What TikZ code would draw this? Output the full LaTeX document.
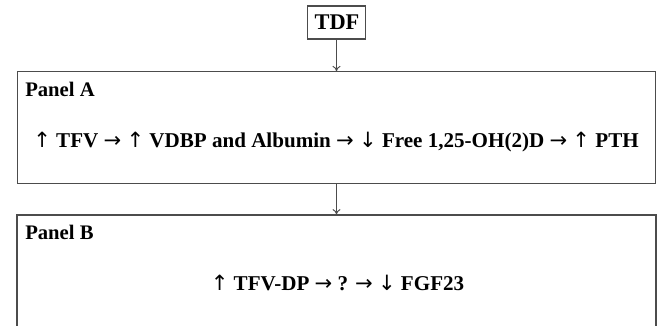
\documentclass[tikz,border=0pt]{standalone}
\usepackage{fontspec}
\setmainfont{Liberation Serif}
\newfontfamily\arrowfont{DejaVu Sans}
\newcommand{\ua}{{\arrowfont\mdseries ↑}}
\newcommand{\da}{{\arrowfont\mdseries ↓}}
\newcommand{\ra}{{\arrowfont\mdseries →}}
\usetikzlibrary{arrows.meta}
\begin{document}
\begin{tikzpicture}[x=0.75pt,y=-0.75pt,
  frame/.style={draw=black!70,line width=0.8pt,inner sep=0pt},
  txt/.style={font=\fontsize{15.5}{18}\selectfont\bfseries,inner sep=0pt},
  flowtxt/.style={font=\fontsize{15.8}{18}\selectfont\bfseries,inner sep=0pt},
  flow/.style={draw=black!70,line width=0.7pt,-{To[length=4pt,width=6pt]}}]
  \useasboundingbox (0,0) rectangle (663,325);
  % source box
  \node[frame,minimum width=43.5pt,minimum height=24.75pt] (tdf) at (336.5,22.5) {};
  \node[txt,font=\fontsize{16.8}{19}\selectfont\bfseries,anchor=base] (tdflabel) at (337,29) {TDF};
  % panel A
  \node[frame,minimum width=478.5pt,minimum height=83.6pt] (pa) at (336.5,127.5) {};
  \node[txt,anchor=base west] (patitle) at (25,96) {Panel A};
  \node[flowtxt,anchor=base] (patext) at (336,147.5) {\ua{} TFV \ra{} \ua{} VDBP and Albumin \ra{} \da{} Free 1,25-OH(2)D \ra{} \ua{} PTH};
  % panel B
  \node[frame,minimum width=479.25pt,minimum height=93.75pt] (pb) at (336.5,277.5) {};
  \node[txt,anchor=base west] (pbtitle) at (25,239) {Panel B};
  \node[flowtxt,anchor=base] (pbtext) at (337.5,290) {\ua{} TFV-DP \ra{} ? \ra{} \da{} FGF23};
  % connectors
  \draw[flow] (tdf.south) -- (pa.north);
  \draw[flow] (pa.south) -- (pb.north);
\end{tikzpicture}
\end{document}
